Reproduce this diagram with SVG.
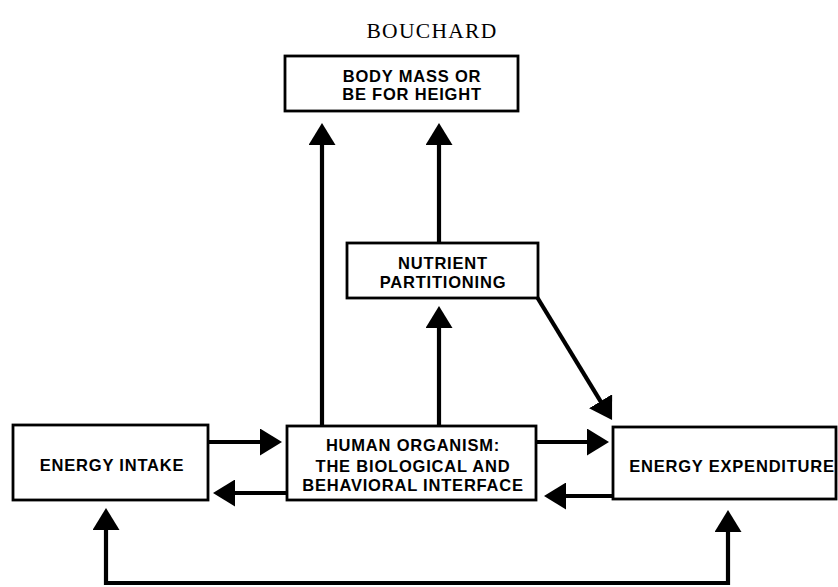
<svg xmlns="http://www.w3.org/2000/svg" width="838" height="587" viewBox="0 0 838 587">
<style>
.box{fill:#fff;stroke:#000;stroke-width:2.8}
.t{font-family:"Liberation Sans",Arial,sans-serif;font-weight:bold;font-size:16.5px;letter-spacing:0.8px;text-anchor:middle;fill:#000}
.c{fill:none;stroke:#000;stroke-width:4.2}
</style>
<defs>
<marker id="ah" viewBox="0 0 22 27" refX="10" refY="13.5" markerWidth="22" markerHeight="27" markerUnits="userSpaceOnUse" orient="auto-start-reverse">
<path d="M0,0 L22,13.5 L0,27 Z" fill="#000"/>
</marker>
</defs>
<rect width="838" height="587" fill="#fff"/>
<text x="432" y="38" font-family="'Liberation Serif','Times New Roman',serif" font-size="21.5" letter-spacing="1.3" text-anchor="middle" fill="#000">BOUCHARD</text>
<g id="connectors">
<path class="c" d="M322,426 V135" marker-end="url(#ah)"/>
<path class="c" d="M439,243 V135" marker-end="url(#ah)"/>
<path class="c" d="M439,426 V318" marker-end="url(#ah)"/>
<path class="c" d="M537,297 L605.8,409.8" marker-end="url(#ah)"/>
<path class="c" d="M208,442 H270" marker-end="url(#ah)"/>
<path class="c" d="M287,493 H225" marker-end="url(#ah)"/>
<path class="c" d="M536,442 H597" marker-end="url(#ah)"/>
<path class="c" d="M613,496 H556" marker-end="url(#ah)"/>
<path class="c" d="M106,520 V583 H728 V522" marker-start="url(#ah)" marker-end="url(#ah)"/>
</g>
<g id="body-mass">
<rect class="box" x="285" y="56" width="233" height="55"/>
<text class="t" x="412" y="82">BODY MASS OR</text>
<text class="t" x="412" y="100">BE FOR HEIGHT</text>
</g>
<g id="nutrient">
<rect class="box" x="347" y="243" width="191" height="55"/>
<text class="t" x="443" y="269">NUTRIENT</text>
<text class="t" x="443" y="288">PARTITIONING</text>
</g>
<g id="human">
<rect class="box" x="287" y="426" width="249" height="74"/>
<text class="t" x="413" y="451">HUMAN ORGANISM:</text>
<text class="t" x="413" y="471.5">THE BIOLOGICAL AND</text>
<text class="t" x="413" y="491">BEHAVIORAL INTERFACE</text>
</g>
<g id="intake">
<rect class="box" x="13" y="425" width="195" height="75"/>
<text class="t" x="112" y="471">ENERGY INTAKE</text>
</g>
<g id="expenditure">
<rect class="box" x="613" y="427" width="223" height="72"/>
<text class="t" x="732" y="472">ENERGY EXPENDITURE</text>
</g>
</svg>
